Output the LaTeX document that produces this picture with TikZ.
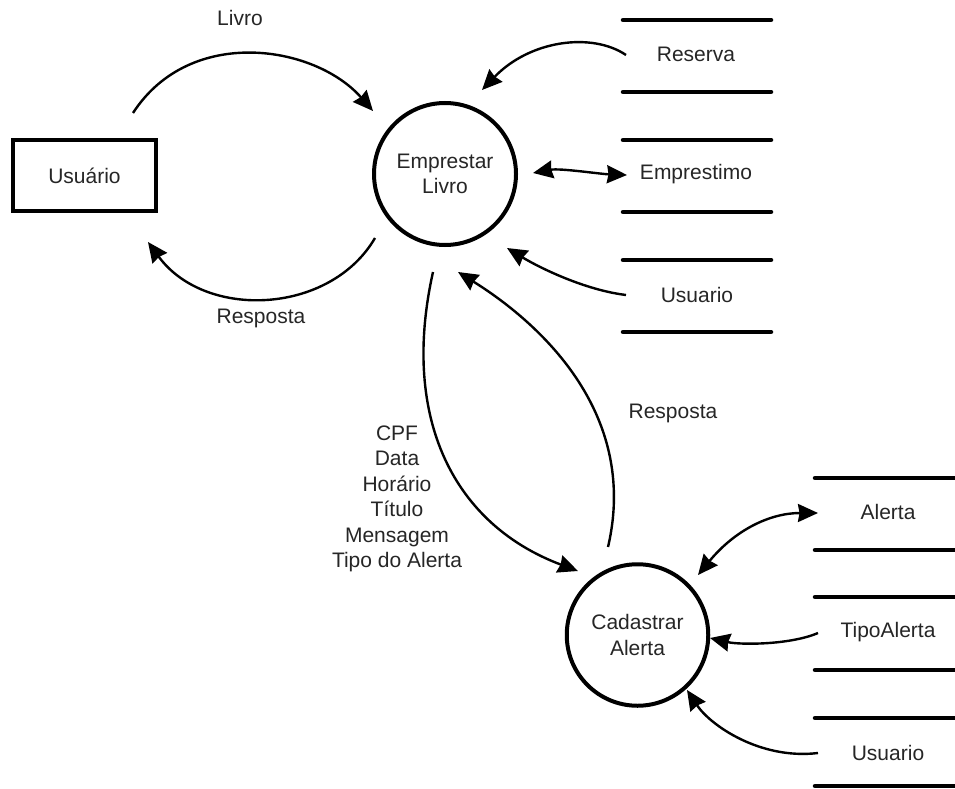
\documentclass[tikz,border=0pt]{standalone}
\usepackage{fontspec}
\setmainfont{Liberation Sans}
\usetikzlibrary{arrows.meta}
\begin{document}
\begin{tikzpicture}[x=1pt,y=-1pt,
  txt/.style={font=\fontsize{21}{25.5}\selectfont, text=black!85, inner sep=0pt, align=center},
  proc/.style={circle, draw, line width=4pt, minimum size=142pt, inner sep=0pt, txt},
  ent/.style={rectangle, draw, line width=4pt, minimum width=143pt, minimum height=71pt, txt},
  storeline/.style={line width=4.5pt, line cap=round},
  flow/.style={line width=2.4pt, -{Stealth[length=20pt,width=18pt,inset=1.5pt]}},
  bothflow/.style={line width=2.4pt, {Stealth[length=20pt,width=18pt,inset=1.5pt]}-{Stealth[length=20pt,width=18pt,inset=1.5pt]}},
]
\fill[white] (0,0) rectangle (955,789);
\useasboundingbox (0,0) rectangle (955,789);

% external entity and processes
\node[ent]  (usr) at (84.5,175.5) {Usuário};
\node[proc] (ep)  at (445,174) {Emprestar\\Livro};
\node[proc, minimum size=141.5pt] (ca) at (637.5,635) {Cadastrar\\Alerta};

% data stores of the loan process
\foreach \y in {20,92,140,212,260,332}
  \draw[storeline] (623,\y) -- (771,\y);
\node[txt] (reserva) at (696,54)  {Reserva};
\node[txt] (emprest) at (696,174) {Emprestimo};
\node[txt] (usuA)    at (697,295) {Usuario};

% data stores of the alert process
\foreach \y in {478,550,597,670,718,786}
  \draw[storeline] (815,\y) -- (965,\y);
\node[txt] (alerta) at (888,512) {Alerta};
\node[txt] (tipo)   at (888,632) {TipoAlerta};
\node[txt] (usuB)   at (888,753) {Usuario};

% flow labels
\node[txt] (lLivro)  at (240,18)  {Livro};
\node[txt] (lResp1)  at (261,318) {Resposta};
\node[txt] (lResp2)  at (673,413) {Resposta};
\node[txt] (lDados)  at (397,499) {CPF\\Data\\Horário\\Título\\Mensagem\\Tipo do Alerta};

% end points of the flows
\coordinate (livroS) at (133,113);  \coordinate (livroE) at (373,111);
\coordinate (resp1S) at (375,238);  \coordinate (resp1E) at (148,242);
\coordinate (resS)   at (626,55);   \coordinate (resE)   at (482,90);
\coordinate (empS)   at (533,173);  \coordinate (empE)   at (627,175);
\coordinate (usuAS)  at (626,295);  \coordinate (usuAE)  at (507,248);
\coordinate (dadosS) at (433,272);  \coordinate (dadosE) at (578,571);
\coordinate (resp2S) at (608,547);  \coordinate (resp2E) at (458,272);
\coordinate (alS)    at (698,575);  \coordinate (alE)    at (818,513);
\coordinate (tipoS)  at (818,633);  \coordinate (tipoE)  at (710,638);
\coordinate (usuBS)  at (818,753);  \coordinate (usuBE)  at (687,690);

% flows
\draw[flow] (livroS) .. controls (190,25) and (315,45) .. (livroE);
\draw[flow] (resp1S) .. controls (330,315) and (205,320) .. (resp1E);
\draw[flow] (resS) .. controls (592,32) and (530,40) .. (resE);
\draw[bothflow] (empS) .. controls (560,168) and (600,174) .. (empE);
\draw[flow] (usuAS) .. controls (585,290) and (540,268) .. (usuAE);
\draw[flow] (dadosS) .. controls (400,420) and (455,525) .. (dadosE);
\draw[flow] (resp2S) .. controls (640,410) and (535,320) .. (resp2E);
\draw[bothflow] (alS) .. controls (735,530) and (770,513) .. (alE);
\draw[flow] (tipoS) .. controls (790,645) and (740,645) .. (tipoE);
\draw[flow] (usuBS) .. controls (760,760) and (710,725) .. (usuBE);
\end{tikzpicture}
\end{document}
